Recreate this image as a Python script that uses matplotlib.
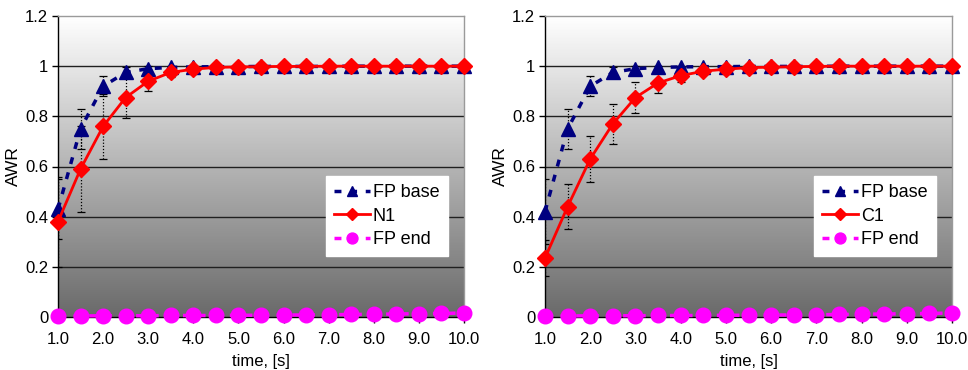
import numpy as np
import matplotlib
matplotlib.use("Agg")
import matplotlib.pyplot as plt
from matplotlib.colors import LinearSegmentedColormap

plt.rcParams['font.family'] = ['Liberation Sans', 'DejaVu Sans']

# time axis, 0.5 s steps
time_s = [1.0, 1.5, 2.0, 2.5, 3.0, 3.5, 4.0, 4.5, 5.0, 5.5,
          6.0, 6.5, 7.0, 7.5, 8.0, 8.5, 9.0, 9.5, 10.0]

# left panel
fp_base_left = [0.43, 0.75, 0.92, 0.975, 0.99, 0.995, 0.997, 0.998, 0.998, 0.999,
                0.999, 0.999, 0.999, 1.0, 1.0, 1.0, 1.0, 1.0, 1.0]
fp_base_left_err = [0.12, 0.08, 0.04, 0.02, 0.01, 0.005, 0, 0, 0, 0,
                    0, 0, 0, 0, 0, 0, 0, 0, 0]
n1 = [0.38, 0.59, 0.76, 0.875, 0.94, 0.975, 0.988, 0.995, 0.997, 0.998,
      0.999, 0.999, 1.0, 1.0, 1.0, 1.0, 1.0, 1.0, 1.0]
n1_err = [0.18, 0.17, 0.13, 0.08, 0.04, 0.02, 0.01, 0.005, 0, 0,
          0, 0, 0, 0, 0, 0, 0, 0, 0]
fp_end_left = [0.004, 0.004, 0.005, 0.005, 0.005, 0.006, 0.006, 0.006, 0.007, 0.007,
               0.008, 0.008, 0.009, 0.010, 0.011, 0.012, 0.013, 0.014, 0.016]

# right panel
fp_base_right = [0.42, 0.75, 0.92, 0.975, 0.99, 0.995, 0.997, 0.998, 0.998, 0.999,
                 0.999, 0.999, 0.999, 1.0, 1.0, 1.0, 1.0, 1.0, 1.0]
fp_base_right_err = [0.13, 0.08, 0.04, 0.02, 0.01, 0.005, 0, 0, 0, 0,
                     0, 0, 0, 0, 0, 0, 0, 0, 0]
c1 = [0.235, 0.44, 0.63, 0.77, 0.875, 0.933, 0.962, 0.98, 0.988, 0.994,
      0.996, 0.998, 0.999, 1.0, 1.0, 1.0, 1.0, 1.0, 1.0]
c1_err = [0.07, 0.09, 0.09, 0.08, 0.06, 0.04, 0.025, 0.01, 0.005, 0,
          0, 0, 0, 0, 0, 0, 0, 0, 0]
fp_end_right = [0.004, 0.004, 0.005, 0.005, 0.005, 0.006, 0.006, 0.006, 0.007, 0.007,
                0.008, 0.008, 0.009, 0.010, 0.011, 0.012, 0.013, 0.014, 0.016]

y_ticks = [0, 0.2, 0.4, 0.6, 0.8, 1.0, 1.2]
y_tick_labels = ["0", "0.2", "0.4", "0.6", "0.8", "1", "1.2"]
x_ticks = [1, 2, 3, 4, 5, 6, 7, 8, 9, 10]
x_tick_labels = ["1.0", "2.0", "3.0", "4.0", "5.0", "6.0", "7.0", "8.0", "9.0", "10.0"]

panels = [
    (fp_base_left, fp_base_left_err, n1, n1_err, "N1", fp_end_left),
    (fp_base_right, fp_base_right_err, c1, c1_err, "C1", fp_end_right),
]

fig = plt.figure(figsize=(9.68, 3.70), dpi=100)
fig.patch.set_facecolor("white")
ax_rects = [
    [58 / 968, 53 / 370, 406 / 968, 301 / 370],
    [545 / 968, 53 / 370, 407 / 968, 301 / 370],
]
legend_anchor = [(326 / 968, (370 - 256) / 370), (814 / 968, (370 - 256) / 370)]

grad = LinearSegmentedColormap.from_list("bg", ["#6a6a6a", "#b4b4b4", "#ffffff"])


def dotted_errorbar(ax, x, y, err):
    eb = ax.errorbar(x, y, yerr=err, fmt="none", ecolor="black", elinewidth=0.9,
                     capsize=3, capthick=0.9, zorder=3)
    for coll in eb[2]:
        coll.set_linestyle((0, (1, 1.5)))
    for cap in eb[1]:
        cap.set_linestyle("none")


for i, (base, base_err, series, series_err, name, end) in enumerate(panels):
    ax = fig.add_axes(ax_rects[i])
    ax.set_xlim(1.0, 10.0)
    ax.set_ylim(0, 1.2)

    # vertical gradient fill of the plot area
    g = np.linspace(0, 1, 256).reshape(-1, 1)
    ax.imshow(g, cmap=grad, origin="lower", aspect="auto",
              extent=[0, 1, 0, 1], transform=ax.transAxes, zorder=0)

    for yv in y_ticks[1:-1]:
        ax.axhline(yv, color="#202020", lw=1.0, zorder=1)

    dotted_errorbar(ax, time_s, base, base_err)
    dotted_errorbar(ax, time_s, series, series_err)

    ax.plot(time_s, base, color="#000080", lw=2.5, ls=(0, (2, 2.5)),
            marker="^", ms=10, mfc="#000080", mec="#000080",
            label="FP base", zorder=4, clip_on=False)
    ax.plot(time_s, series, color="#ff0000", lw=2.0, ls="-",
            marker="D", ms=8, mfc="#ff0000", mec="#ff0000",
            label=name, zorder=5, clip_on=False)
    ax.plot(time_s, end, color="#ff00ff", lw=2.5, ls=(0, (2, 2.5)),
            marker="o", ms=10.5, mfc="#ff00ff", mec="#ff00ff",
            label="FP end", zorder=6, clip_on=False)

    ax.set_yticks(y_ticks)
    ax.set_yticklabels(y_tick_labels)
    ax.set_xticks(x_ticks)
    ax.set_xticklabels(x_tick_labels)
    ax.tick_params(axis="both", labelsize=12, length=4, width=1, color="black",
                   direction="out", pad=3)
    ax.tick_params(axis="x", pad=7)

    for side in ["left", "bottom"]:
        ax.spines[side].set_color("black")
        ax.spines[side].set_linewidth(1.0)
    for side in ["top", "right"]:
        ax.spines[side].set_color("#9a9a9a")
        ax.spines[side].set_linewidth(1.0)

    ax.set_xlabel("time, [s]", fontsize=12, labelpad=5)
    ax.set_ylabel("AWR", fontsize=12.5, labelpad=3)

    leg = ax.legend(loc="lower left", bbox_to_anchor=legend_anchor[i],
                    bbox_transform=fig.transFigure, frameon=True, fancybox=False,
                    edgecolor="white", facecolor="white", framealpha=1.0,
                    fontsize=13, handlelength=2.0, handletextpad=0.15,
                    markerscale=0.75, borderpad=0.45, labelspacing=0.35,
                    borderaxespad=0)
    leg.set_zorder(10)

fig.savefig("out.png", dpi=100, facecolor="white")
